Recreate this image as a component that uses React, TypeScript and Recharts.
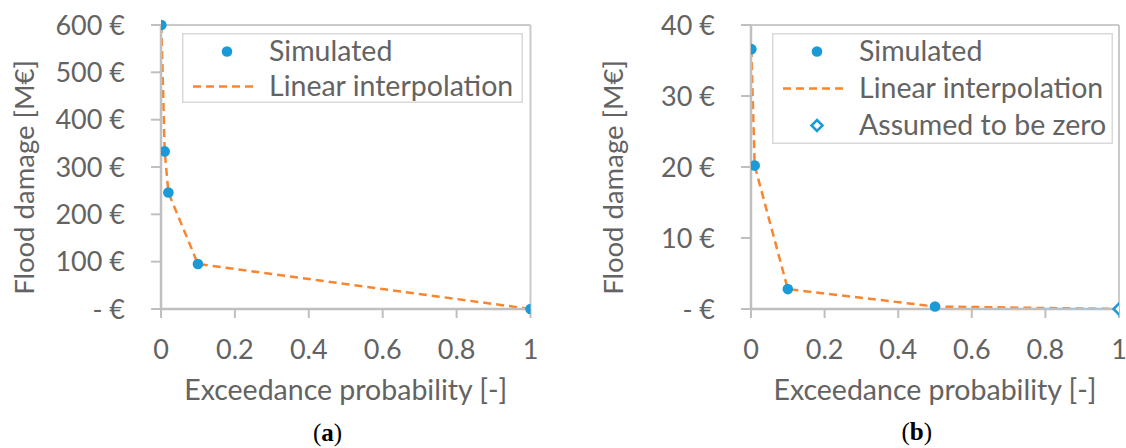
import React from 'react';
import {ComposedChart, Line, Scatter, XAxis, YAxis, ReferenceLine, Legend, Label} from 'recharts';

// panel (a)
const probA = [0.001, 0.01, 0.02, 0.1, 1];
const damageA = [600, 333, 246, 95, 0];
const yTicksA = [0, 100, 200, 300, 400, 500, 600];

// panel (b)
const probB = [0.001, 0.01, 0.1, 0.5];
const damageB = [36.6, 20.2, 2.8, 0.35];
const zeroProbB = [1];
const zeroDamageB = [0];
const yTicksB = [0, 10, 20, 30, 40];

const xTicks = [0, 0.2, 0.4, 0.6, 0.8, 1];
const seriesNames = ['Simulated', 'Linear interpolation', 'Assumed to be zero'];
const xTitle = 'Exceedance probability [-]';
const yTitle = 'Flood damage [M€]';
const panelLabels = ['a', 'b'];

const FONT = 'Lato, sans-serif';
const TEXT = '#636363';
const AXIS = '#bfbfbf';
const BORDER = '#cacaca';
const BLUE = '#1a9bd7';
const ORANGE = '#f9862f';
const TICK_SIZE = 27;
const X_TITLE_SIZE = 28.5;
const Y_TITLE_SIZE = 27.5;
const LEGEND_SIZE = 28.5;

const toPoints = (ps: number[], ds: number[]) => ps.map((p, i) => ({p, d: ds[i]}));

const Dot = (props: any) => <circle cx={props.cx} cy={props.cy} r={5.3} fill={BLUE} />;
const Diamond = (props: any) => {
    const {cx, cy} = props;
    const s = 5.5;
    return (
        <polygon
            points={`${cx},${cy - s} ${cx + s},${cy} ${cx},${cy + s} ${cx - s},${cy}`}
            fill="#fff"
            stroke={BLUE}
            strokeWidth={2.5}
        />
    );
};

const AxisTitle = (props: any) => {
    const {tx, ty, rotate, text, size} = props;
    return (
        <text
            x={tx}
            y={ty}
            transform={rotate ? `rotate(-90 ${tx} ${ty})` : undefined}
            textAnchor="middle"
            fill={TEXT}
            fontSize={size}
            fontFamily={FONT}
        >
            {text}
        </text>
    );
};

const LegendBox = ({w, h, rowGap, kinds}: {w: number; h: number; rowGap: number; kinds: string[]}) => (
    <svg width={w} height={h} style={{display: 'block'}}>
        <rect x={0.75} y={0.75} width={w - 1.5} height={h - 1.5} fill="none" stroke="#d9d9d9" strokeWidth={1.5} />
        {kinds.map((k, i) => {
            const cy = 18.5 + i * rowGap;
            return (
                <g key={k}>
                    {k === 'dot' && <circle cx={45} cy={cy} r={5.3} fill={BLUE} />}
                    {k === 'line' && (
                        <line x1={11} y1={cy} x2={76} y2={cy} stroke={ORANGE} strokeWidth={2.5} strokeDasharray="8 5" />
                    )}
                    {k === 'diamond' && <Diamond cx={45} cy={cy} />}
                    <text x={87} y={cy} dy="0.35em" fill={TEXT} fontSize={LEGEND_SIZE} fontFamily={FONT}>
                        {seriesNames[i]}
                    </text>
                </g>
            );
        })}
    </svg>
);

interface PanelProps {
    width: number;
    axisWidth: number;
    rightMargin: number;
    yMax: number;
    yTicks: number[];
    points: {p: number; d: number}[];
    zeros: {p: number; d: number}[];
    legend: {left: number; w: number; h: number; rowGap: number; kinds: string[]};
    yTitleX: number;
}

const Panel: React.FC<PanelProps> = ({width, axisWidth, rightMargin, yMax, yTicks, points, zeros, legend, yTitleX}) => {
    const line = [...points, ...zeros];
    const plotCenter = axisWidth + (width - axisWidth - rightMargin) / 2;
    const tickStyle = {fill: TEXT, fontSize: TICK_SIZE, fontFamily: FONT};
    return (
        <ComposedChart width={width} height={448} margin={{top: 25, right: rightMargin, bottom: 0, left: 0}}>
            <XAxis
                type="number"
                dataKey="p"
                domain={[0, 1]}
                ticks={xTicks}
                height={139}
                tickSize={9}
                tickMargin={22}
                tick={tickStyle}
                axisLine={{stroke: AXIS, strokeWidth: 2.5}}
                tickLine={{stroke: AXIS, strokeWidth: 2}}
                allowDataOverflow
            >
                <Label content={<AxisTitle tx={plotCenter} ty={400} text={xTitle} size={X_TITLE_SIZE} />} />
            </XAxis>
            <YAxis
                type="number"
                dataKey="d"
                domain={[0, yMax]}
                ticks={yTicks}
                width={axisWidth}
                tickSize={10}
                tickMargin={26}
                tick={tickStyle}
                tickFormatter={(v: number) => (v === 0 ? '- €' : `${v} €`)}
                axisLine={{stroke: AXIS, strokeWidth: 2.5}}
                tickLine={{stroke: AXIS, strokeWidth: 2}}
            >
                <Label content={<AxisTitle tx={yTitleX} ty={177.5} rotate text={yTitle} size={Y_TITLE_SIZE} />} />
            </YAxis>
            <ReferenceLine y={yMax} stroke={BORDER} strokeWidth={2} />
            <ReferenceLine x={1} stroke={BORDER} strokeWidth={2} />
            <Line
                data={line}
                dataKey="d"
                type="linear"
                stroke={ORANGE}
                strokeWidth={2.5}
                strokeDasharray="8 5"
                dot={false}
                activeDot={false}
                isAnimationActive={false}
            />
            <Scatter data={points} dataKey="d" shape={Dot} isAnimationActive={false} />
            {zeros.length > 0 && <Scatter data={zeros} dataKey="d" shape={Diamond} isAnimationActive={false} />}
            <Legend
                layout="vertical"
                align="center"
                verticalAlign="middle"
                wrapperStyle={{left: legend.left, top: 33, width: legend.w, height: legend.h}}
                content={() => <LegendBox w={legend.w} h={legend.h} rowGap={legend.rowGap} kinds={legend.kinds} />}
            />
        </ComposedChart>
    );
};

const Caption = ({letter, cx, cy}: {letter: string; cx: number; cy: number}) => (
    <div
        style={{
            position: 'absolute',
            left: cx - 40,
            top: cy - 16,
            width: 80,
            height: 32,
            lineHeight: '32px',
            textAlign: 'center',
            fontFamily: '"Liberation Serif", serif',
            fontSize: 25,
            color: '#000',
        }}
    >
        (<b>{letter}</b>)
    </div>
);

export default function App() {
    return (
        <div style={{position: 'absolute', left: 0, top: 0, width: 1126, height: 448, background: '#fff', overflow: 'hidden'}}>
            <div style={{position: 'absolute', left: 0, top: 0}}>
                <Panel
                    width={560}
                    axisWidth={161}
                    rightMargin={29.5}
                    yMax={600}
                    yTicks={yTicksA}
                    points={toPoints(probA, damageA)}
                    zeros={[]}
                    legend={{left: 182, w: 341, h: 70, rowGap: 35, kinds: ['dot', 'line']}}
                    yTitleX={33.5}
                />
            </div>
            <div style={{position: 'absolute', left: 560, top: 0}}>
                <Panel
                    width={566}
                    axisWidth={191}
                    rightMargin={7}
                    yMax={40}
                    yTicks={yTicksB}
                    points={toPoints(probB, damageB)}
                    zeros={toPoints(zeroProbB, zeroDamageB)}
                    legend={{left: 212, w: 341, h: 111, rowGap: 37, kinds: ['dot', 'line', 'diamond']}}
                    yTitleX={63.3}
                />
            </div>
            <Caption letter={panelLabels[0]} cx={327.5} cy={433} />
            <Caption letter={panelLabels[1]} cx={916.7} cy={432} />
        </div>
    );
}
